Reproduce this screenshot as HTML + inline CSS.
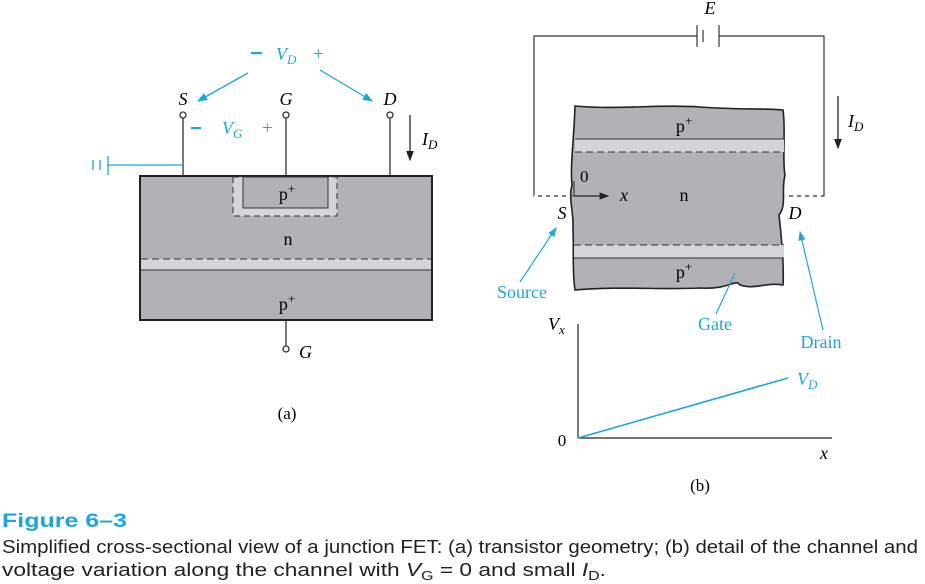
<!DOCTYPE html>
<html><head><meta charset="utf-8"><style>
html,body{margin:0;padding:0;background:#fff;width:925px;height:584px;overflow:hidden}
svg{display:block}
.s{font-family:"Liberation Serif",serif}
.b{fill:#1aa6e0}
</style></head><body>
<svg width="925" height="584" viewBox="0 0 925 584">
<defs><marker id="ab" markerWidth="8" markerHeight="8" refX="7" refY="4" orient="auto"><path d="M0,1 L8,4 L0,7z" fill="#1aa6e0"/></marker>
<marker id="ak" markerWidth="8" markerHeight="8" refX="7" refY="4" orient="auto"><path d="M0,1 L8,4 L0,7z" fill="#222"/></marker></defs>
<!-- Left (a) -->
<g>
<rect x="140" y="176" width="292" height="144" fill="#b1b2b5" stroke="#222" stroke-width="2"/>
<rect x="141" y="259" width="290" height="11" fill="#d4d5d7"/>
<line x1="141" y1="259" x2="431" y2="259" stroke="#333" stroke-dasharray="7,4"/>
<line x1="141" y1="270" x2="431" y2="270" stroke="#333"/>
<rect x="233" y="177" width="104" height="39" fill="#d4d5d7" stroke="#333" stroke-dasharray="6,4"/>
<rect x="243" y="177" width="85" height="31" fill="#b1b2b5" stroke="#333"/>
<text x="287" y="200" class="s" font-size="18" text-anchor="middle">p<tspan dy="-7" font-size="13">+</tspan></text>
<text x="288" y="245" class="s" font-size="18" text-anchor="middle">n</text>
<text x="287" y="310" class="s" font-size="18" text-anchor="middle">p<tspan dy="-7" font-size="13">+</tspan></text>
<g stroke="#333" stroke-width="1.3" fill="#fff">
<line x1="183" y1="118" x2="183" y2="176"/><circle cx="183" cy="115" r="3"/>
<line x1="286" y1="118" x2="286" y2="176"/><circle cx="286" cy="115" r="3"/>
<line x1="390" y1="118" x2="390" y2="176"/><circle cx="390" cy="115" r="3"/>
<line x1="286" y1="320" x2="286" y2="346"/><circle cx="286" cy="349" r="3"/>
</g>
<text x="183" y="105" class="s" font-size="18" font-style="italic" text-anchor="middle">S</text>
<text x="286" y="105" class="s" font-size="18" font-style="italic" text-anchor="middle">G</text>
<text x="390" y="105" class="s" font-size="18" font-style="italic" text-anchor="middle">D</text>
<text x="299" y="358" class="s" font-size="18" font-style="italic">G</text>
<rect x="251" y="52" width="11" height="2.2" fill="#1aa6e0"/>
<text x="276" y="60" class="s b" font-size="18" font-style="italic">V<tspan dy="4" font-size="13">D</tspan></text>
<text x="313" y="60" class="s b" font-size="19">+</text>
<line x1="248" y1="73" x2="198" y2="101" stroke="#1aa6e0" stroke-width="1.3" marker-end="url(#ab)"/>
<line x1="320" y1="70" x2="372" y2="101" stroke="#1aa6e0" stroke-width="1.3" marker-end="url(#ab)"/>
<rect x="191" y="127" width="10" height="2.2" fill="#1aa6e0"/>
<text x="222" y="134" class="s b" font-size="18" font-style="italic">V<tspan dy="4" font-size="13">G</tspan></text>
<text x="262" y="134" class="s b" font-size="19">+</text>
<g stroke="#1aa6e0" stroke-width="1.3"><line x1="108" y1="165" x2="183" y2="165"/><line x1="108" y1="156" x2="108" y2="175"/><line x1="93" y1="160" x2="93" y2="170"/><line x1="100" y1="160" x2="100" y2="170"/></g>
<line x1="410" y1="115" x2="410" y2="160" stroke="#222" stroke-width="1.3" marker-end="url(#ak)"/>
<text x="422" y="145" class="s" font-size="18" font-style="italic">I<tspan dy="4" font-size="13">D</tspan></text>
<text x="287" y="419" class="s" font-size="17" text-anchor="middle">(a)</text>
</g>
<!-- Right (b) -->
<g>
<path d="M575,106 C620,110 660,104 700,107 C740,110 760,108 783,110 C786,130 782,160 785,175 C781,190 787,205 779,215 C782,240 784,270 783,285 C765,282 755,290 740,285 C735,278 730,290 700,288 C660,290 620,286 575,290 C572,270 574,250 573,230 C574,210 568,200 572,185 C570,165 574,140 575,106z" fill="#b1b2b5" stroke="#222" stroke-width="1.6"/>
<rect x="575" y="139" width="209" height="13" fill="#d4d5d7"/>
<rect x="574" y="245" width="210" height="13" fill="#d4d5d7"/>
<line x1="575" y1="139" x2="784" y2="139" stroke="#333"/>
<line x1="575" y1="152" x2="784" y2="152" stroke="#333" stroke-dasharray="7,4"/>
<line x1="574" y1="245" x2="784" y2="245" stroke="#333" stroke-dasharray="7,4"/>
<line x1="574" y1="258" x2="784" y2="258" stroke="#333"/>
<text x="684" y="132" class="s" font-size="18" text-anchor="middle">p<tspan dy="-7" font-size="13">+</tspan></text>
<text x="684" y="278" class="s" font-size="18" text-anchor="middle">p<tspan dy="-7" font-size="13">+</tspan></text>
<text x="684" y="201" class="s" font-size="18" text-anchor="middle">n</text>
<text x="580" y="182" class="s" font-size="17">0</text>
<line x1="574" y1="181" x2="574" y2="196" stroke="#222"/>
<line x1="574" y1="196" x2="608" y2="196" stroke="#222" stroke-width="1.2" marker-end="url(#ak)"/>
<text x="620" y="201" class="s" font-size="18" font-style="italic">x</text>
<text x="562" y="219" class="s" font-size="18" font-style="italic" text-anchor="middle">S</text>
<text x="795" y="219" class="s" font-size="18" font-style="italic" text-anchor="middle">D</text>
<g stroke="#333" stroke-width="1.2" fill="none">
<polyline points="573,196 534,196 534,36 697,36"/>
<polyline points="719,36 824,36 824,196 785,196"/>
<line x1="697" y1="25" x2="697" y2="47"/><line x1="703" y1="30" x2="703" y2="42"/><line x1="719" y1="25" x2="719" y2="47"/>
</g>
<line x1="534" y1="196" x2="573" y2="196" stroke="#fff" stroke-width="1.4" stroke-dasharray="4,4"/>
<line x1="785" y1="196" x2="824" y2="196" stroke="#fff" stroke-width="1.4" stroke-dasharray="4,4"/>
<text x="710" y="14" class="s" font-size="18" font-style="italic" text-anchor="middle">E</text>
<line x1="838" y1="96" x2="838" y2="148" stroke="#222" stroke-width="1.3" marker-end="url(#ak)"/>
<text x="848" y="127" class="s" font-size="18" font-style="italic">I<tspan dy="4" font-size="13">D</tspan></text>
<text x="522" y="298" class="s b" font-size="18" text-anchor="middle">Source</text>
<line x1="520" y1="282" x2="556" y2="228" stroke="#1aa6e0" stroke-width="1.2" marker-end="url(#ab)"/>
<text x="715" y="330" class="s b" font-size="18" text-anchor="middle">Gate</text>
<line x1="716" y1="314" x2="735" y2="273" stroke="#1aa6e0" stroke-width="1.2"/>
<text x="821" y="348" class="s b" font-size="18" text-anchor="middle">Drain</text>
<line x1="823" y1="330" x2="800" y2="232" stroke="#1aa6e0" stroke-width="1.2" marker-end="url(#ab)"/>
<g id="vx-plot">
<line x1="578" y1="324" x2="578" y2="438" stroke="#222" stroke-width="1.2"/>
<line x1="578" y1="438" x2="832" y2="438" stroke="#222" stroke-width="1.2"/>
<text x="548" y="330" class="s" font-size="18" font-style="italic">V<tspan dy="4" font-size="13">x</tspan></text>
<text x="562" y="446" class="s" font-size="17" text-anchor="middle">0</text>
<text x="820" y="459" class="s" font-size="18" font-style="italic">x</text>
<text x="797" y="385" class="s b" font-size="18" font-style="italic">V<tspan dy="4" font-size="13">D</tspan></text>
</g>
<text x="700" y="491" class="s" font-size="17" text-anchor="middle">(b)</text>
</g>
<text x="2" y="527" font-family="Liberation Sans,sans-serif" font-size="19" font-weight="bold" fill="#1aa6e0" textLength="125" lengthAdjust="spacingAndGlyphs">Figure 6–3</text>
<text x="2" y="553" font-family="Liberation Sans,sans-serif" font-size="18.5" fill="#222" textLength="916" lengthAdjust="spacingAndGlyphs">Simplified cross-sectional view of a junction FET: (a) transistor geometry; (b) detail of the channel and</text>
<text x="2" y="576" font-family="Liberation Sans,sans-serif" font-size="18.5" fill="#222" textLength="604" lengthAdjust="spacingAndGlyphs">voltage variation along the channel with <tspan font-style="italic">V</tspan><tspan dy="4" font-size="13">G</tspan><tspan dy="-4"> = 0 and small </tspan><tspan font-style="italic">I</tspan><tspan dy="4" font-size="13">D</tspan><tspan dy="-4">.</tspan></text>
</svg>
<script>
var positionsX=[0,1];
var voltages=[0,1];
var ns="http://www.w3.org/2000/svg";
function sx(v){return 578+v*210;}
function sy(v){return 438-v*60;}
var ln=document.createElementNS(ns,"polyline");
ln.setAttribute("points",positionsX.map(function(x,i){return sx(x)+","+sy(voltages[i]);}).join(" "));
ln.setAttribute("fill","none");ln.setAttribute("stroke","#1aa6e0");ln.setAttribute("stroke-width","1.6");


document.getElementById("vx-plot").appendChild(ln);
</script>
</body></html>
